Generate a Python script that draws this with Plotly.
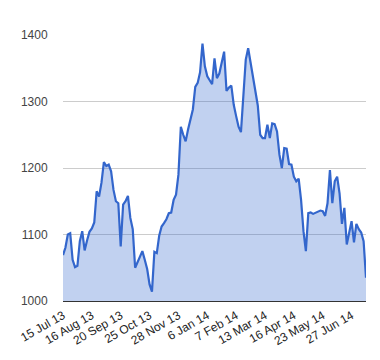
import plotly.graph_objects as go

values = [
    1069, 1080, 1100, 1102, 1062, 1051, 1053, 1090, 1105, 1076,
    1091, 1104, 1109, 1118, 1165, 1157, 1178, 1209, 1203, 1205,
    1195, 1167, 1150, 1147, 1082, 1145, 1150, 1158, 1125, 1108,
    1050, 1059, 1068, 1075, 1062, 1048, 1025, 1014, 1074, 1072,
    1098, 1112, 1117, 1123, 1132, 1133, 1152, 1160, 1190, 1262,
    1250, 1240, 1258, 1274, 1288, 1322, 1328, 1344, 1387, 1353,
    1338, 1332, 1326, 1365, 1335, 1342, 1358, 1375, 1316, 1321,
    1324, 1295, 1278, 1262, 1254, 1318, 1363, 1380, 1358, 1332,
    1316, 1294, 1250, 1245, 1245, 1265, 1245, 1267, 1266, 1255,
    1220, 1200, 1230, 1229, 1206, 1205, 1187, 1180, 1184, 1152,
    1105, 1075, 1132, 1133, 1131, 1133, 1135, 1136, 1135, 1128,
    1147, 1197, 1147, 1180, 1187, 1162, 1116, 1140, 1085, 1102,
    1120, 1088, 1116, 1108, 1103, 1090, 1035,
]
tick_labels = ["15 Jul 13", "16 Aug 13", "20 Sep 13", "25 Oct 13", "28 Nov 13",
               "6 Jan 14", "7 Feb 14", "13 Mar 14", "16 Apr 14", "23 May 14",
               "27 Jun 14"]
tick_step = 12
y_ticks = [1000, 1100, 1200, 1300, 1400]

x = list(range(len(values)))

fig = go.Figure()
fig.add_trace(go.Scatter(
    x=x, y=values, mode="lines",
    line=dict(color="#3366cc", width=2.2),
    fill="tozeroy", fillcolor="rgba(51,102,204,0.3)",
    hoverinfo="skip",
))

# page body has an 8px default margin, so the figure is sized/offset for it
fig.update_layout(
    width=372, height=352,
    margin=dict(l=55, r=14, t=27, b=59),
    paper_bgcolor="white", plot_bgcolor="white",
    showlegend=False,
    font=dict(family="Arial, Liberation Sans, sans-serif", size=12, color="#222"),
)
fig.update_xaxes(
    automargin=False,
    range=[0, len(values) - 1],
    tickmode="array",
    tickvals=[i * tick_step for i in range(len(tick_labels))],
    ticktext=tick_labels,
    tickangle=-30,
    showgrid=False, zeroline=False,
    showline=True, linecolor="#333", linewidth=1,
    ticks="outside", ticklen=2, tickcolor="rgba(0,0,0,0)",
)
fig.update_yaxes(
    automargin=False,
    range=[1000, 1400],
    tickmode="array", tickvals=y_ticks,
    ticktext=[str(v) for v in y_ticks],
    showgrid=True, gridcolor="#cccccc", gridwidth=1,
    zeroline=False,
    ticks="outside", ticklen=12, tickcolor="rgba(0,0,0,0)",
    tickfont=dict(color="#444"),
)

fig.write_html("out.html")
